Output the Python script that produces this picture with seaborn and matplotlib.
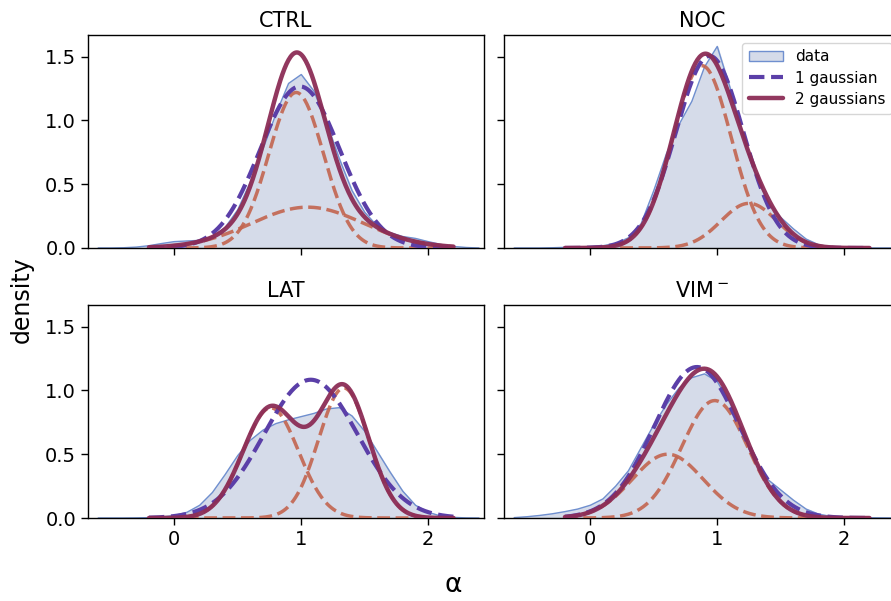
import numpy as np
import pandas as pd
import matplotlib
matplotlib.use("Agg")
import matplotlib.pyplot as plt
import seaborn as sns
from matplotlib.patches import Patch
from matplotlib.lines import Line2D

# panel names
conditions = ["CTRL", "NOC", "LAT", "VIM$^-$"]

alpha_grid = [-0.6, -0.5, -0.4, -0.3, -0.2, -0.1, 0.0, 0.1, 0.2, 0.3, 0.4,
              0.5, 0.6, 0.7, 0.8, 0.9, 1.0, 1.1, 1.2, 1.3, 1.4, 1.5, 1.6,
              1.7, 1.8, 1.9, 2.0, 2.1, 2.2, 2.3, 2.4]

ctrl_density = [0.0, 0.0, 0.002, 0.007, 0.018, 0.035, 0.05, 0.055, 0.06, 0.09, 0.16,
                0.30, 0.52, 0.78, 1.05, 1.29, 1.36, 1.23, 0.98, 0.70, 0.45, 0.28, 0.17,
                0.12, 0.09, 0.075, 0.05, 0.028, 0.012, 0.004, 0.0]
noc_density = [0.0, 0.0, 0.0, 0.002, 0.005, 0.008, 0.012, 0.018, 0.035, 0.08, 0.19,
               0.45, 0.74, 0.97, 1.15, 1.42, 1.58, 1.26, 0.90, 0.58, 0.36, 0.24, 0.15,
               0.07, 0.025, 0.008, 0.003, 0.001, 0.0, 0.0, 0.0]
lat_density = [0.0, 0.0, 0.0, 0.001, 0.003, 0.008, 0.02, 0.045, 0.10, 0.20, 0.34,
               0.49, 0.61, 0.69, 0.74, 0.77, 0.795, 0.82, 0.855, 0.865, 0.80, 0.68, 0.52,
               0.36, 0.21, 0.10, 0.045, 0.015, 0.005, 0.001, 0.0]
vim_density = [0.003, 0.01, 0.02, 0.033, 0.05, 0.07, 0.10, 0.15, 0.25, 0.37, 0.55,
               0.73, 0.89, 1.02, 1.10, 1.13, 1.07, 0.90, 0.68, 0.45, 0.30, 0.22, 0.14,
               0.07, 0.03, 0.012, 0.006, 0.004, 0.002, 0.001, 0.0]
data_density = [ctrl_density, noc_density, lat_density, vim_density]

# fitted mixture parameters per condition: (mean, sd, weight)
one_gauss = [(0.99, 0.315, 1.0), (0.94, 0.265, 1.0),
             (1.075, 0.368, 1.0), (0.84, 0.337, 1.0)]
two_gauss = [[(0.96, 0.215, 0.657), (1.05, 0.44, 0.353)],
             [(0.88, 0.23, 0.824), (1.25, 0.22, 0.193)],
             [(0.76, 0.219, 0.474), (1.335, 0.198, 0.506)],
             [(0.61, 0.28, 0.351), (0.98, 0.26, 0.60)]]

model_range = (-0.2, 2.2)

c_data_fill = "#d5dbe9"
c_data_edge = "#6f8fcf"
c_one = "#5b3fa8"
c_two = "#8c2d56"
c_comp = "#c3654f"


def gauss(x, mu, sd, w):
    return w * np.exp(-0.5 * ((x - mu) / sd) ** 2) / (sd * np.sqrt(2 * np.pi))


sns.set_style("ticks")
plt.rcParams["font.family"] = ["DejaVu Sans"]
plt.rcParams["text.color"] = "black"
plt.rcParams["axes.labelcolor"] = "black"

fig, axes = plt.subplots(2, 2, figsize=(8.91, 6.01), dpi=100, sharex=True, sharey=True)
fig.subplots_adjust(left=0.0988, right=1.0101, top=0.9418, bottom=0.1381,
                    wspace=0.0505, hspace=0.2676)

xs = np.linspace(model_range[0], model_range[1], 300)

for ax, name, dens, g1, g2 in zip(axes.flat, conditions, data_density, one_gauss, two_gauss):
    ax.fill_between(alpha_grid, dens, color=c_data_fill, zorder=1)
    sns.lineplot(x=alpha_grid, y=dens, ax=ax, color=c_data_edge, lw=1, zorder=2)

    for comp in g2:
        sns.lineplot(x=xs, y=gauss(xs, *comp), ax=ax, color=c_comp, lw=2.5,
                     linestyle="--", alpha=0.9, zorder=3)
    sns.lineplot(x=xs, y=gauss(xs, *g1), ax=ax, color=c_one, lw=3,
                 linestyle="--", zorder=4)
    total = sum(gauss(xs, *comp) for comp in g2)
    sns.lineplot(x=xs, y=total, ax=ax, color=c_two, lw=3.2, alpha=0.95, zorder=5)

    ax.set_title(name, fontsize=15, color="black")
    for s in ax.spines.values():
        s.set_color("black")
        s.set_linewidth(1)

ax = axes[0, 0]
ax.set_xlim(-0.68, 2.44)
ax.set_ylim(0, 1.67)
ax.set_xticks([0, 1, 2])
ax.set_yticks([0.0, 0.5, 1.0, 1.5])
ax.set_yticklabels(["0.0", "0.5", "1.0", "1.5"])
for a in axes.flat:
    a.tick_params(labelsize=14, length=5, width=1, color="black", labelcolor="black")

# legend in the NOC panel
handles = [Patch(facecolor=c_data_fill, edgecolor=c_data_edge, label="data"),
           Line2D([], [], color=c_one, lw=3, linestyle="--", label="1 gaussian"),
           Line2D([], [], color=c_two, lw=3.2, alpha=0.95, label="2 gaussians")]
axes[0, 1].legend(handles=handles, loc="upper right", fontsize=11,
                  handlelength=2.2, borderpad=0.45, labelspacing=0.4)

fig.text(22 / 891, 1 - 300 / 601, "density", rotation=90, fontsize=17,
         ha="center", va="center")
fig.text(453 / 891, 1 - 585 / 601, "α", fontsize=19, ha="center", va="center")

fig.savefig("out.png", dpi=100)
